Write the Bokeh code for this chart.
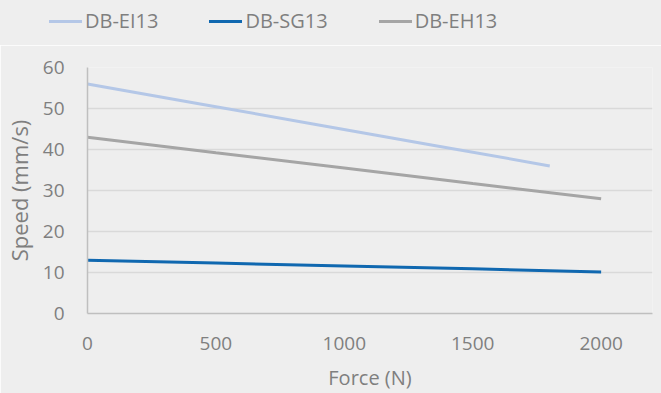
from bokeh.plotting import figure
from bokeh.layouts import column
from bokeh.models import Range1d, FixedTicker, Div
from bokeh.embed import file_html
from bokeh.resources import INLINE

force = [0, 500, 1000, 1500, 2000]
force_ei = [0, 450, 900, 1350, 1800]
ei13 = [56, 51, 46, 41, 36]
sg13 = [13, 12.3, 11.6, 10.9, 10.1]
eh13 = [43, 39.2, 35.5, 31.7, 28]
x_ticks = [0, 500, 1000, 1500, 2000]
y_ticks = [0, 10, 20, 30, 40, 50, 60]
names = ["DB-EI13", "DB-SG13", "DB-EH13"]
colors = ["#b4c7e7", "#1068b0", "#a5a5a5"]

BG = "#eeeeee"
TXT = "#7f7f7f"
FONT = "Open Sans"
LEG_H = 45

p = figure(width=661, height=393 - LEG_H, output_backend="svg", toolbar_location=None,
           x_range=Range1d(0, 2200), y_range=Range1d(0, 60),
           background_fill_color=BG, border_fill_color=BG,
           min_border_left=87, min_border_right=9, min_border_top=67 - LEG_H, min_border_bottom=80)
p.outline_line_color = None

p.line(force_ei, ei13, line_color=colors[0], line_width=3)
p.line(force, sg13, line_color=colors[1], line_width=3)
p.line(force, eh13, line_color=colors[2], line_width=3)

p.xgrid.grid_line_color = None
p.ygrid.grid_line_color = "#d9d9d9"
p.ygrid.grid_line_width = 1.5

p.xaxis.ticker = FixedTicker(ticks=x_ticks)
p.yaxis.ticker = FixedTicker(ticks=y_ticks)
for ax in (p.xaxis[0], p.yaxis[0]):
    ax.axis_line_color = "#bfbfbf"
    ax.axis_line_width = 1.5
    ax.major_tick_line_color = None
    ax.minor_tick_line_color = None
    ax.major_label_text_color = TXT
    ax.major_label_text_font = FONT
    ax.major_label_text_font_size = "19px"
    ax.axis_label_text_color = TXT
    ax.axis_label_text_font = FONT
    ax.axis_label_text_font_style = "normal"

p.xaxis.axis_label = "Force (N)"
p.yaxis.axis_label = "Speed (mm/s)"
p.xaxis.axis_label_text_font_size = "20px"
p.yaxis.axis_label_text_font_size = "22px"
p.xaxis.major_label_standoff = 17
p.yaxis.major_label_standoff = 17
p.xaxis.axis_label_standoff = 11
p.yaxis.axis_label_standoff = 6

# legend strip above the plot
items_html = "".join(
    f'<span style="display:inline-flex;align-items:center;margin-right:51px">'
    f'<span style="display:inline-block;width:33px;height:3px;background:{c};margin-right:3px"></span>'
    f'<span>{n}</span></span>'
    for n, c in zip(names, colors))
legend_div = Div(
    text=(f'<div style="display:flex;align-items:center;height:43px;padding-left:49px;'
          f'font-family:\'{FONT}\';font-size:20px;color:{TXT};white-space:nowrap">{items_html}</div>'),
    width=661, height=LEG_H, margin=0,
    styles={"background-color": BG, "width": "661px", "height": f"{LEG_H}px"})

layout = column(legend_div, p, spacing=0)
open("out.html", "w").write(file_html(layout, INLINE))
